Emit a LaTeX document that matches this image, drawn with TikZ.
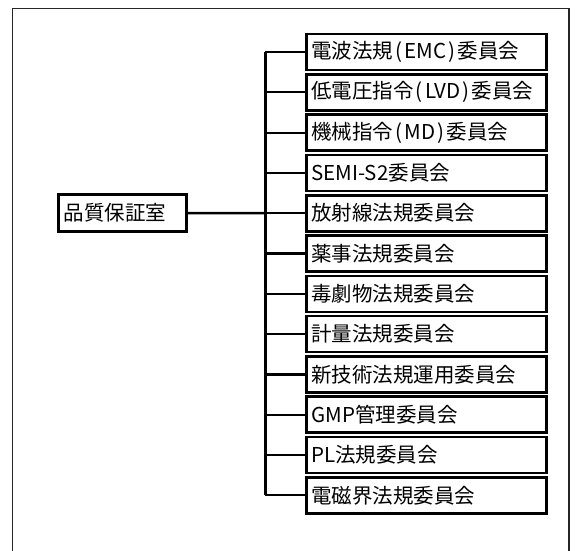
\documentclass[tikz,border=0pt]{standalone}
\usepackage{fontspec}
\setmainfont{Noto Sans CJK JP}
\newcommand\hlp{\makebox[0.55em]{(}}
\newcommand\hrp{\makebox[0.55em]{)}}
\begin{document}
\begin{tikzpicture}[x=1pt,y=-1pt,
  committee/.style={draw, line width=2.6pt, anchor=west, minimum height=36pt,
    text width=230pt, align=left, inner xsep=5pt, inner ysep=0pt,
    font=\fontsize{20.5pt}{23pt}\selectfont},
  rootbox/.style={draw, line width=2.6pt, minimum height=37pt,
    text width=118pt, align=left, inner xsep=5pt, inner ysep=0pt,
    font=\fontsize{20.5pt}{23pt}\selectfont},
  branch/.style={line width=2.2pt},
  trunkline/.style={line width=3pt}]
\useasboundingbox (0,0) rectangle (576,550);
\clip (0,0) rectangle (576,550);
\fill[white] (0,0) rectangle (576,550);
\draw[line width=1.6pt, black!85] (12.5,560) -- (12.5,8.5) -- (569,8.5) -- (569,560);

\foreach \i/\t in {1/電波法規\hlp EMC\hrp 委員会, 2/低電圧指令\hlp LVD\hrp 委員会, 3/機械指令\hlp MD\hrp 委員会,
  4/SEMI-S2委員会, 5/放射線法規委員会, 6/薬事法規委員会, 7/毒劇物法規委員会,
  8/計量法規委員会, 9/新技術法規運用委員会, 10/GMP管理委員会, 11/PL法規委員会,
  12/電磁界法規委員会}{
  \node[committee] (b\i) at (305, {52+40.3*(\i-1)}) {\t};
}
\node[rootbox] (root) at (122.5, 213) {品質保証室};
\coordinate (trunk) at (265,0);

\draw[trunkline] (b1.west -| trunk) -- (b12.west -| trunk);
\draw[branch] (b1.west) -- (b1.west -| trunk);
\draw[branch] (b12.west) -- (b12.west -| trunk);
\foreach \i in {2,...,11}{
  \draw[branch] (b\i.west) -- (b\i.west -| trunk);
}
\draw[branch, line width=2.5pt] (root.east) -- (b5.west -| trunk);
\end{tikzpicture}
\end{document}
